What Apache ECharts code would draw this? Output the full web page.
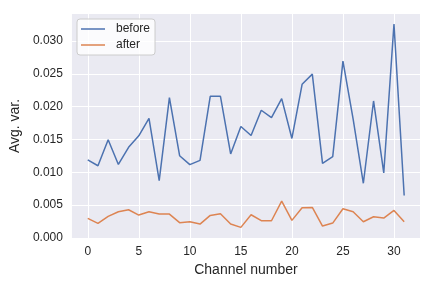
<!DOCTYPE html>
<html><head><meta charset="utf-8">
<script src="https://cdn.jsdelivr.net/npm/echarts@6/dist/echarts.min.js"></script>
<style>html,body{margin:0;padding:0;background:#fff}#c{width:432px;height:288px}</style>
</head><body><div id="c"></div>
<script>
const channels = [0,1,2,3,4,5,6,7,8,9,10,11,12,13,14,15,16,17,18,19,20,21,22,23,24,25,26,27,28,29,30,31];
const before = [0.01188,0.0110,0.01495,0.0112,0.0138,0.01556,0.0182,0.00874,0.02137,0.01253,0.01117,0.01182,0.02157,0.02157,0.01279,0.01697,0.0156,0.01945,0.01833,0.02121,0.01515,0.0234,0.02495,0.01136,0.01238,0.02692,0.0181,0.00833,0.02086,0.0099,0.03258,0.00647];
const after = [0.00298,0.00223,0.00329,0.0040,0.0043,0.00349,0.0040,0.00364,0.00364,0.00233,0.00248,0.00212,0.00344,0.0037,0.00212,0.00162,0.00354,0.00263,0.00263,0.0056,0.00268,0.0046,0.00465,0.00182,0.00227,0.00445,0.0040,0.00248,0.00324,0.00303,0.0042,0.00248];
const xTicks = [0,5,10,15,20,25,30];
const yTicks = [0,0.005,0.010,0.015,0.020,0.025,0.030];
const seriesNames = ['before','after'];
const xLabel = 'Channel number';
const yLabel = 'Avg. var.';

const chart = echarts.init(document.getElementById('c'), null, {renderer:'canvas'});
const txt = '#262626';
const font = 'Liberation Sans, Arial, sans-serif';
chart.setOption({
  animation:false,
  backgroundColor:'#ffffff',
  grid:{left:71,right:12,top:14,bottom:50,show:true,backgroundColor:'#EAEAF2',borderWidth:0},
  legend:{
    orient:'vertical',left:77,top:19,
    data:seriesNames,
    icon:'rect',
    itemWidth:24,itemHeight:1.5,itemGap:4,
    padding:[4,5,4,4],
    backgroundColor:'rgba(255,255,255,0.8)',borderColor:'#cccccc',borderWidth:1,borderRadius:3,
    textStyle:{color:txt,fontFamily:font,fontSize:12,padding:[0,0,0,6]}
  },
  xAxis:{
    type:'value',min:-1.55,max:32.55,
    name:xLabel,nameLocation:'middle',nameGap:23,
    nameTextStyle:{color:txt,fontFamily:font,fontSize:14},
    axisLine:{show:false},
    axisTick:{show:false,customValues:xTicks},
    axisLabel:{customValues:xTicks,color:txt,fontFamily:font,fontSize:12,margin:8},
    splitLine:{show:true,lineStyle:{color:'#ffffff',width:1}}
  },
  yAxis:{
    type:'value',min:0,max:0.0341,
    name:yLabel,nameLocation:'middle',nameGap:45,nameRotate:90,
    nameTextStyle:{color:txt,fontFamily:font,fontSize:14},
    axisLine:{show:false},
    axisTick:{show:false,customValues:yTicks},
    axisLabel:{customValues:yTicks,color:txt,fontFamily:font,fontSize:12,margin:9,formatter:v=>v.toFixed(3)},
    splitLine:{show:true,lineStyle:{color:'#ffffff',width:1}}
  },
  series:[
    {name:seriesNames[0],type:'line',symbol:'none',data:channels.map((c,i)=>[c,before[i]]),lineStyle:{color:'#4C72B0',width:1.5},itemStyle:{color:'#4C72B0'}},
    {name:seriesNames[1],type:'line',symbol:'none',data:channels.map((c,i)=>[c,after[i]]),lineStyle:{color:'#DD8452',width:1.5},itemStyle:{color:'#DD8452'}}
  ]
});
</script></body></html>
